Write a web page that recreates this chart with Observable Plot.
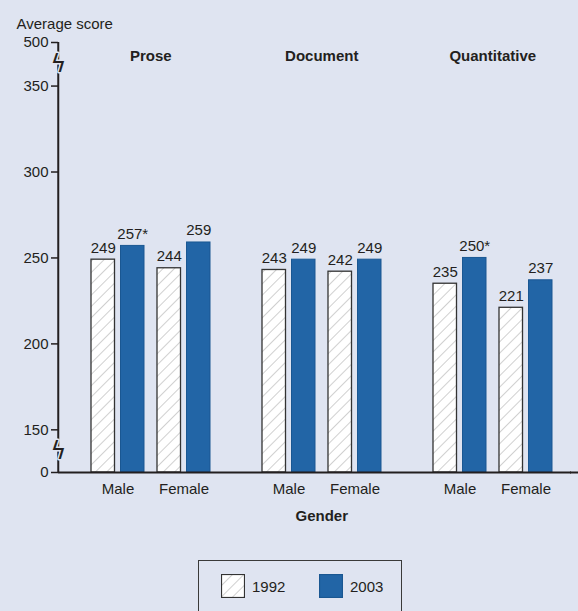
<!DOCTYPE html>
<html>
<head>
<meta charset="utf-8">
<script src="https://cdn.jsdelivr.net/npm/d3@7"></script>
<script src="https://cdn.jsdelivr.net/npm/@observablehq/plot@0.6"></script>
<style>
  html, body { margin: 0; padding: 0; background: #dfe4f1; overflow: hidden; }
  body { width: 578px; height: 611px; font-family: "Liberation Sans", Arial, sans-serif; color: #231f20; }
  #legend { position: relative; height: 66px; }
  #legend .box { position: absolute; left: 198px; top: 15px; width: 204px; height: 70px; border: 1.5px solid #3a3a3a; box-sizing: border-box; }
  #legend .item { position: absolute; top: 13px; display: flex; align-items: center; font-size: 15px; }
  #legend svg { display: block; margin-right: 7px; }
</style>
</head>
<body>
<div id="chart"></div>
<div id="legend"></div>
<script>
// ---- data ----
const types = ["Prose", "Document", "Quantitative"];
const genders = ["Male", "Female"];
const years = ["1992", "2003"];
const scores1992 = [249, 244, 243, 242, 235, 221];
const scores2003 = [257, 259, 249, 249, 250, 237];
const labels1992 = ["249", "244", "243", "242", "235", "221"];
const labels2003 = ["257*", "259", "249", "249", "250*", "237"];
const yTicks = [0, 150, 200, 250, 300, 350, 500];
const yBreaks = [75, 425];
const yTitle = "Average score";
const xTitle = "Gender";

const rows = types.flatMap((t, i) => genders.map((g, j) => ({
  type: t, gender: g,
  v1992: scores1992[i * 2 + j], v2003: scores2003[i * 2 + j],
  l1992: labels1992[i * 2 + j], l2003: labels2003[i * 2 + j]
})));

const FONT = '"Liberation Sans", Arial, sans-serif';
const BG = "#dfe4f1";
const BLUE = "#2265a6";
const BLUE_STROKE = "#1a5792";
const INK = "#231f20";

// broken-axis transform: three linear segments with different stretch
const brk = d3.scaleLinear().domain([0, 150, 350, 500]).range([0, 42.7, 386.7, 430.3]);

const chart = Plot.plot({
  width: 578,
  height: 545,
  marginLeft: 57,
  marginRight: 6.5,
  marginTop: 42,
  marginBottom: 73,
  style: {background: "transparent", fontFamily: FONT, fontSize: "15px", color: INK, overflow: "visible"},
  fx: {domain: types, paddingInner: 0, paddingOuter: 0, axis: null, label: null},
  x: {domain: genders, paddingInner: 0.203, paddingOuter: 0.391, align: 0.63, label: null},
  y: {type: "linear", transform: brk, domain: [0, 430.3], label: null},
  marks: [
    // bars
    Plot.barY(rows, {fx: "type", x: "gender", y: "v1992", fill: "url(#hatch)", stroke: "#333", strokeWidth: 1.3, insetRight: 29.5}),
    Plot.barY(rows, {fx: "type", x: "gender", y: "v2003", fill: BLUE, stroke: BLUE_STROKE, strokeWidth: 1, insetLeft: 29.5}),
    // value labels
    Plot.text(rows, {fx: "type", x: "gender", y: "v1992", text: "l1992", dx: -14.75, dy: -7, lineAnchor: "bottom", fontSize: 15, fill: INK}),
    Plot.text(rows, {fx: "type", x: "gender", y: "v2003", text: "l2003", dx: 14.75, dy: -7, lineAnchor: "bottom", fontSize: 15, fill: INK}),
    // x axis line (one segment per facet, plus a short extension to the right edge)
    Plot.ruleY([0], {stroke: INK, strokeWidth: 2}),
    Plot.ruleY([0], {fx: () => "Quantitative", stroke: INK, strokeWidth: 2, insetLeft: 170, insetRight: -8}),
    // y axis line
    Plot.ruleX(["Prose"], {fx: d => d, x: null, y1: 0, y2: 500, dx: -85.75, stroke: INK, strokeWidth: 2}),
    // axis break glyphs
    Plot.text(yBreaks, {fx: () => "Prose", y: d => d, frameAnchor: "left", text: () => "ϟ", fontFamily: "DejaVu Sans", fontSize: 24, fill: INK, stroke: BG, strokeWidth: 3, paintOrder: "stroke", textAnchor: "middle", dx: 0}),
    // axes (axis ticks live in the transformed space, so map them through the break)
    Plot.axisY({ticks: yTicks.map(brk), tickSize: 7, tickPadding: 3, tickFormat: d => String(Math.round(brk.invert(d))), label: null, fontSize: 15, strokeWidth: 1.5, stroke: INK}),
    Plot.axisX({tickSize: 0, tickPadding: 11, label: null, fontSize: 15}),
    // facet labels
    Plot.text(types, {fx: d => d, text: d => d, frameAnchor: "top", dy: 8, dx: 6.75, fontWeight: "bold", fontSize: 15, fill: INK}),
    // titles
    Plot.text([yTitle], {fx: () => "Prose", text: d => d, frameAnchor: "top-left", textAnchor: "start", dx: -42, dy: -24, fontSize: 15, fill: INK}),
    Plot.text([xTitle], {fx: () => "Document", text: d => d, frameAnchor: "bottom", dy: 48.5, dx: 6.75, fontWeight: "bold", fontSize: 15, fill: INK})
  ]
});

// hatch pattern definition
const defs = d3.select(chart).insert("defs", ":first-child");
const pat = defs.append("pattern").attr("id", "hatch").attr("patternUnits", "userSpaceOnUse")
  .attr("width", 8).attr("height", 8).attr("patternTransform", "rotate(45)");
pat.append("rect").attr("width", 8).attr("height", 8).attr("fill", "#fff");
pat.append("line").attr("x1", 0).attr("y1", 0).attr("x2", 0).attr("y2", 8).attr("stroke", "#c4c4c4").attr("stroke-width", 1.6);

document.getElementById("chart").appendChild(chart);

// legend
const legend = d3.select("#legend");
const box = legend.append("div").attr("class", "box");
const swatchFill = {"1992": "url(#hatch)", "2003": BLUE};
const swatchStroke = {"1992": "#333", "2003": BLUE_STROKE};
const itemLeft = {"1992": 22, "2003": 120};
years.forEach(y => {
  const item = box.append("div").attr("class", "item").style("left", itemLeft[y] + "px");
  const s = item.append("svg").attr("width", 24).attr("height", 24);
  s.append("rect").attr("x", 0.5).attr("y", 0.5).attr("width", 23).attr("height", 23)
    .attr("fill", swatchFill[y]).attr("stroke", swatchStroke[y]).attr("stroke-width", 1.2);
  item.append("span").text(y);
});
</script>
</body>
</html>
